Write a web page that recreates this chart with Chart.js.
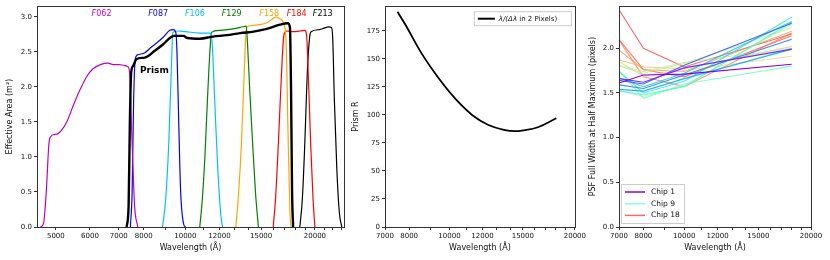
<!DOCTYPE html>
<html>
<head>
<meta charset="utf-8">
<script src="https://cdn.jsdelivr.net/npm/chart.js@4.4.1/dist/chart.umd.min.js"></script>
<style>
  body { margin: 0; background: #fff; }
  #wrap { position: relative; width: 830px; height: 260px; }
  canvas { position: absolute; top: 0; }
</style>
</head>
<body>
<div id="wrap">
  <canvas id="area" width="350" height="260" style="left:0px"></canvas>
  <canvas id="res" width="238" height="260" style="left:350px"></canvas>
  <canvas id="psf" width="242" height="260" style="left:588px"></canvas>
</div>
<script>
// --- effective area curves (wavelength in Angstrom, area in m^2)
const f062Wave = [4600, 4680, 4750, 4820, 4880, 4950, 5050, 5150, 5300, 5500, 5700, 5900, 6100, 6350, 6600, 6800, 7000, 7200, 7350, 7420, 7480, 7540, 7620, 7750];
const f062Area = [0, 0.05, 0.5, 1.2, 1.30, 1.32, 1.33, 1.38, 1.5, 1.75, 1.97, 2.15, 2.26, 2.32, 2.34, 2.32, 2.32, 2.31, 2.29, 2.2, 1.6, 1.0, 0.3, 0];
const f087Wave = [7450, 7520, 7580, 7650, 7750, 8050, 8300, 8500, 8880, 9200, 9370, 9500, 9560, 9650, 9750, 9900, 10000];
const f087Area = [0, 0.5, 1.8, 2.40, 2.46, 2.49, 2.56, 2.61, 2.71, 2.81, 2.82, 2.78, 2.5, 1.5, 0.5, 0.05, 0];
const f106Wave = [8850, 9000, 9150, 9280, 9350, 9600, 10000, 10800, 11400, 11550, 11700, 11900, 12100, 12200];
const f106Area = [0, 0.4, 1.2, 2.3, 2.78, 2.80, 2.79, 2.77, 2.77, 2.6, 1.8, 0.8, 0.15, 0];
const f129Wave = [10800, 10950, 11100, 11250, 11400, 11500, 12000, 12900, 13600, 13850, 13950, 14100, 14300, 14550, 14780];
const f129Area = [0, 0.4, 1.0, 1.8, 2.5, 2.78, 2.81, 2.83, 2.86, 2.87, 2.6, 2.0, 1.3, 0.5, 0];
const f158Wave = [13100, 13300, 13500, 13700, 13850, 14000, 14900, 15500, 16000, 16300, 16600, 16900, 17150, 17300, 17500, 17600];
const f158Area = [0, 0.5, 1.2, 2.2, 2.82, 2.87, 2.89, 2.92, 2.98, 3.0, 2.97, 2.92, 2.6, 1.5, 0.2, 0];
const f184Wave = [16000, 16200, 16450, 16700, 16950, 17200, 17800, 18500, 18950, 19150, 19350, 19550, 19800, 20000];
const f184Area = [0, 0.4, 1.2, 2.1, 2.75, 2.80, 2.79, 2.80, 2.81, 2.7, 2.0, 1.2, 0.4, 0];
const f213Wave = [18450, 18700, 18950, 19200, 19450, 19600, 20500, 21000, 21500, 21850, 22000, 22200, 22500, 22800, 23100];
const f213Area = [0, 0.4, 1.2, 2.2, 2.72, 2.79, 2.82, 2.84, 2.86, 2.85, 2.7, 1.8, 0.8, 0.2, 0];
const prismWave = [7300, 7380, 7430, 7480, 7560, 7700, 8050, 8500, 8880, 9200, 9400, 9900, 10100, 10800, 11600, 12500, 13400, 14400, 15450, 16600, 17300, 17500, 17600, 17700, 17800];
const prismArea = [0, 0.3, 1.5, 2.2, 2.30, 2.40, 2.42, 2.52, 2.61, 2.70, 2.73, 2.73, 2.70, 2.69, 2.72, 2.74, 2.77, 2.79, 2.83, 2.89, 2.91, 2.85, 2.0, 0.5, 0];

const filterNames = ['062', '087', '106', '129', '158', '184', '213'];
const filterColors = ['#bf00bf', '#0000ff', '#00bfff', '#008000', '#ffa500', '#ff0000', '#000000'];
const filterLabelWave = [6385, 8645, 10525, 12810, 15665, 18140, 20860];

// --- prism resolving power
const resWave = [7500, 7850, 8600, 9450, 10350, 11330, 12400, 13600, 14400, 14900, 16300, 18050];
const resPower = [192, 180, 154, 132, 114, 100, 91, 86.5, 85.5, 86, 89, 97];

// --- PSF FWHM per chip
const chipWave = [7000, 8000, 10000, 18000];
const chipFwhm = [
  [1.61, 1.70, 1.71, 1.82],
  [1.66, 1.62, 1.78, 1.99],
  [1.64, 1.60, 1.81, 2.28],
  [1.59, 1.55, 1.70, 2.10],
  [1.54, 1.52, 1.66, 1.99],
  [1.67, 1.57, 1.72, 2.30],
  [1.74, 1.50, 1.63, 2.35],
  [1.52, 1.48, 1.57, 2.29],
  [1.75, 1.44, 1.60, 1.80],
  [1.53, 1.46, 1.58, 2.27],
  [1.81, 1.74, 1.84, 2.00],
  [1.80, 1.72, 1.83, 2.23],
  [1.85, 1.69, 1.75, 1.91],
  [1.87, 1.79, 1.77, 2.02],
  [1.98, 1.76, 1.74, 2.19],
  [2.09, 1.68, 1.57, 2.17],
  [2.10, 1.76, 1.68, 2.14],
  [2.43, 2.00, 1.79, 2.16]
];
const legendChips = [1, 9, 18];

const FONT = 'DejaVu Sans';
const labelledTicks = [5000, 6000, 7000, 8000, 10000, 12000, 15000, 20000];

function pts(xs, ys) {
  return xs.map((x, i) => ({ x: x, y: ys[i] }));
}

// matplotlib "rainbow" colormap
function rainbow(t, a) {
  const r = Math.min(1, Math.abs(2 * t - 0.5));
  const g = Math.sin(Math.PI * t);
  const b = Math.cos(Math.PI * t / 2);
  return `rgba(${Math.round(r * 255)}, ${Math.round(g * 255)}, ${Math.round(b * 255)}, ${a})`;
}

function xAxis(min, max) {
  return {
    type: 'logarithmic', min: min, max: max,
    afterBuildTicks: (scale) => {
      const vals = [];
      for (let v = 1000; v <= 30000; v += 1000) {
        if (v >= min && v <= max) vals.push({ value: v });
      }
      scale.ticks = vals;
    },
    afterFit: (scale) => { scale.height = 33; },
    ticks: {
      autoSkip: false, maxRotation: 0, padding: 2, color: '#111',
      font: { family: FONT, size: 7 },
      callback: (v) => labelledTicks.includes(v) ? String(v) : ''
    },
    grid: { display: true, drawOnChartArea: false, tickLength: 3, tickColor: '#333' },
    border: { display: false },
    title: { display: true, text: 'Wavelength (Å)', color: '#111', font: { family: FONT, size: 8 }, padding: { top: 2, bottom: 7 } }
  };
}

function yAxis(max, step, width, title, titlePad, digits) {
  return {
    type: 'linear', min: 0, max: max,
    afterFit: (scale) => { scale.width = width; },
    ticks: {
      stepSize: step, includeBounds: false, padding: 2, color: '#111',
      font: { family: FONT, size: 7 },
      callback: (v) => v.toFixed(digits)
    },
    grid: { display: true, drawOnChartArea: false, tickLength: 3, tickColor: '#333' },
    border: { display: false },
    title: { display: true, text: title, color: '#111', font: { family: FONT, size: 8 }, padding: { top: titlePad, bottom: 0 } }
  };
}

const framePlugin = {
  id: 'frame',
  afterDraw(chart) {
    const { ctx, chartArea: a } = chart;
    ctx.save();
    ctx.strokeStyle = '#333';
    ctx.lineWidth = 1;
    ctx.strokeRect(Math.round(a.left) + 0.5, Math.round(a.top) + 0.5, Math.round(a.right - a.left), Math.round(a.bottom - a.top));
    ctx.restore();
  }
};

const filterLabelPlugin = {
  id: 'filterLabels',
  afterDatasetsDraw(chart) {
    const { ctx, scales } = chart;
    ctx.save();
    ctx.textBaseline = 'middle';
    const y = scales.y.getPixelForValue(3.04);
    filterNames.forEach((name, i) => {
      const x = scales.x.getPixelForValue(filterLabelWave[i]);
      ctx.font = `italic 8px "${FONT}"`;
      const wF = ctx.measureText('F').width;
      ctx.font = `8px "${FONT}"`;
      const wN = ctx.measureText(name).width;
      const x0 = x - (wF + wN) / 2;
      ctx.fillStyle = filterColors[i];
      ctx.textAlign = 'left';
      ctx.font = `italic 8px "${FONT}"`;
      ctx.fillText('F', x0, y);
      ctx.font = `8px "${FONT}"`;
      ctx.fillText(name, x0 + wF, y);
    });
    ctx.fillStyle = '#000';
    ctx.font = `bold 9px "${FONT}"`;
    ctx.fillText('Prism', scales.x.getPixelForValue(7840), scales.y.getPixelForValue(2.24));
    ctx.restore();
  }
};

const resLegendPlugin = {
  id: 'resLegend',
  afterDraw(chart) {
    const { ctx, chartArea: a } = chart;
    ctx.save();
    const x0 = a.right - 101, y0 = a.top + 5, w = 97, h = 14;
    ctx.fillStyle = 'rgba(255,255,255,0.85)';
    ctx.strokeStyle = '#ccc';
    ctx.lineWidth = 1;
    ctx.fillRect(x0, y0, w, h);
    ctx.strokeRect(x0 + 0.5, y0 + 0.5, w, h);
    ctx.strokeStyle = '#000';
    ctx.lineWidth = 2;
    ctx.beginPath();
    ctx.moveTo(x0 + 4, y0 + 7.5);
    ctx.lineTo(x0 + 21, y0 + 7.5);
    ctx.stroke();
    ctx.fillStyle = '#111';
    ctx.textBaseline = 'middle';
    ctx.font = `italic 7px "${FONT}"`;
    ctx.fillText('λ/(Δλ', x0 + 25, y0 + 7.5);
    const wi = ctx.measureText('λ/(Δλ').width;
    ctx.font = `7px "${FONT}"`;
    ctx.fillText(' in 2 Pixels)', x0 + 25 + wi, y0 + 7.5);
    ctx.restore();
  }
};

const chipLegendPlugin = {
  id: 'chipLegend',
  afterDraw(chart) {
    const { ctx, chartArea: a } = chart;
    ctx.save();
    const x0 = a.left + 2, y0 = a.bottom - 43, w = 63, h = 39;
    ctx.fillStyle = 'rgba(255,255,255,0.85)';
    ctx.strokeStyle = '#ccc';
    ctx.lineWidth = 1;
    ctx.fillRect(x0, y0, w, h);
    ctx.strokeRect(x0 + 0.5, y0 + 0.5, w, h);
    ctx.textBaseline = 'middle';
    ctx.font = `7.5px "${FONT}"`;
    legendChips.forEach((c, i) => {
      const y = y0 + 8 + i * 11.7;
      const ds = chart.data.datasets[c - 1];
      ctx.strokeStyle = ds.borderColor;
      ctx.lineWidth = 1.5;
      ctx.beginPath();
      ctx.moveTo(x0 + 4, y);
      ctx.lineTo(x0 + 24, y);
      ctx.stroke();
      ctx.fillStyle = '#111';
      ctx.fillText('Chip ' + c, x0 + 30, y);
    });
    ctx.restore();
  }
};

Chart.defaults.font.family = FONT;
Chart.defaults.animation = false;

const filterSets = [
  [f062Wave, f062Area], [f087Wave, f087Area], [f106Wave, f106Area], [f129Wave, f129Area],
  [f158Wave, f158Area], [f184Wave, f184Area], [f213Wave, f213Area]
];

new Chart(document.getElementById('area'), {
  type: 'line',
  data: {
    datasets: [
      { label: 'Prism', data: pts(prismWave, prismArea), borderColor: '#000', borderWidth: 2.4, pointRadius: 0, cubicInterpolationMode: 'monotone' }
    ].concat(filterSets.map((s, i) => ({
      label: 'F' + filterNames[i], data: pts(s[0], s[1]), borderColor: filterColors[i],
      borderWidth: 1.2, pointRadius: 0, cubicInterpolationMode: 'monotone'
    })))
  },
  options: {
    responsive: false, devicePixelRatio: 1,
    layout: { padding: { top: 5, right: 6, left: 0, bottom: 0 } },
    plugins: { legend: { display: false }, tooltip: { enabled: false } },
    scales: {
      x: xAxis(4520, 23370),
      y: yAxis(3.154, 0.5, 37, 'Effective Area (m²)', 5, 1)
    }
  },
  plugins: [framePlugin, filterLabelPlugin]
});

new Chart(document.getElementById('res'), {
  type: 'line',
  data: {
    datasets: [{
      label: 'λ/(Δλ in 2 Pixels)', data: pts(resWave, resPower), borderColor: '#000',
      borderWidth: 1.8, pointRadius: 0, tension: 0.4
    }]
  },
  options: {
    responsive: false, devicePixelRatio: 1,
    layout: { padding: { top: 5, right: 10, left: 0, bottom: 0 } },
    plugins: { legend: { display: false }, tooltip: { enabled: false } },
    scales: {
      x: xAxis(7000, 20000),
      y: yAxis(197, 25, 35, 'Prism R', 1, 0)
    }
  },
  plugins: [framePlugin, resLegendPlugin]
});

new Chart(document.getElementById('psf'), {
  type: 'line',
  data: {
    datasets: chipFwhm.map((vals, i) => ({
      label: 'Chip ' + (i + 1), data: pts(chipWave, vals),
      borderColor: rainbow(i / 17, 1 - 0.4 * i / 17),
      borderWidth: 1.1, pointRadius: 0, tension: 0
    }))
  },
  options: {
    responsive: false, devicePixelRatio: 1,
    layout: { padding: { top: 5, right: 19, left: 0, bottom: 0 } },
    plugins: { legend: { display: false }, tooltip: { enabled: false } },
    scales: {
      x: xAxis(7000, 20000),
      y: yAxis(2.47, 0.5, 31, 'PSF Full Width at Half Maximum (pixels)', 0, 1)
    }
  },
  plugins: [framePlugin, chipLegendPlugin]
});
</script>
</body>
</html>
